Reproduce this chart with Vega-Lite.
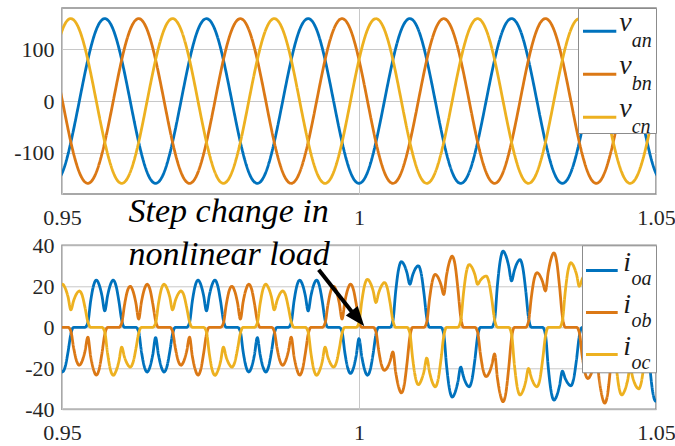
{
  "$schema": "https://vega.github.io/schema/vega-lite/v6.json",
  "background": "white",
  "padding": {"left": 12, "top": 6, "right": 0, "bottom": 0},
  "bounds": "flush",
  "spacing": 51.3,
  "config": {
    "font": "Liberation Serif, Times New Roman, serif",
    "view": {"stroke": "#8c8c8c", "strokeWidth": 1.5},
    "axis": {"labelFont": "Liberation Serif, Times New Roman, serif", "labelFontSize": 22, "labelColor": "#262626", "ticks": false, "tickSize": 0, "domain": false, "gridColor": "#c8c8c8", "gridWidth": 1, "labelFlush": false, "labelOverlap": false},
    "axisX": {"labelPadding": 13},
    "axisY": {"labelPadding": 8},
    "legend": {"labelFont": "Liberation Serif, Times New Roman, serif", "titleFont": "Liberation Serif, Times New Roman, serif"}
  },
  "resolve": {"scale": {"color": "independent", "strokeDash": "independent"}, "legend": {"color": "independent", "strokeDash": "independent"}},
  "vconcat": [
    {
      "width": 594,
      "height": 186,
      "data": {"values": [
        {"t":0.94864,"van":-158.5,"vbn":79.3,"vcn":79.3},
        {"t":0.95007,"van":-137.3,"vbn":0,"vcn":137.3},
        {"t":0.95149,"van":-79.3,"vbn":-79.3,"vcn":158.5},
        {"t":0.95292,"van":0,"vbn":-137.3,"vcn":137.3},
        {"t":0.95435,"van":79.3,"vbn":-158.5,"vcn":79.3},
        {"t":0.95577,"van":137.3,"vbn":-137.3,"vcn":0},
        {"t":0.9572,"van":158.5,"vbn":-79.3,"vcn":-79.3},
        {"t":0.95863,"van":137.3,"vbn":0,"vcn":-137.3},
        {"t":0.96005,"van":79.3,"vbn":79.3,"vcn":-158.5},
        {"t":0.96148,"van":0,"vbn":137.3,"vcn":-137.3},
        {"t":0.96291,"van":-79.3,"vbn":158.5,"vcn":-79.3},
        {"t":0.96433,"van":-137.3,"vbn":137.3,"vcn":0},
        {"t":0.96576,"van":-158.5,"vbn":79.3,"vcn":79.3},
        {"t":0.96719,"van":-137.3,"vbn":0,"vcn":137.3},
        {"t":0.96861,"van":-79.3,"vbn":-79.3,"vcn":158.5},
        {"t":0.97004,"van":0,"vbn":-137.3,"vcn":137.3},
        {"t":0.97147,"van":79.3,"vbn":-158.5,"vcn":79.3},
        {"t":0.97289,"van":137.3,"vbn":-137.3,"vcn":0},
        {"t":0.97432,"van":158.5,"vbn":-79.3,"vcn":-79.3},
        {"t":0.97575,"van":137.3,"vbn":0,"vcn":-137.3},
        {"t":0.97717,"van":79.3,"vbn":79.3,"vcn":-158.5},
        {"t":0.9786,"van":0,"vbn":137.3,"vcn":-137.3},
        {"t":0.98003,"van":-79.3,"vbn":158.5,"vcn":-79.3},
        {"t":0.98145,"van":-137.3,"vbn":137.3,"vcn":0},
        {"t":0.98288,"van":-158.5,"vbn":79.3,"vcn":79.3},
        {"t":0.98431,"van":-137.3,"vbn":0,"vcn":137.3},
        {"t":0.98573,"van":-79.3,"vbn":-79.3,"vcn":158.5},
        {"t":0.98716,"van":0,"vbn":-137.3,"vcn":137.3},
        {"t":0.98859,"van":79.3,"vbn":-158.5,"vcn":79.3},
        {"t":0.99001,"van":137.3,"vbn":-137.3,"vcn":0},
        {"t":0.99144,"van":158.5,"vbn":-79.3,"vcn":-79.3},
        {"t":0.99287,"van":137.3,"vbn":0,"vcn":-137.3},
        {"t":0.99429,"van":79.3,"vbn":79.3,"vcn":-158.5},
        {"t":0.99572,"van":0,"vbn":137.3,"vcn":-137.3},
        {"t":0.99715,"van":-79.3,"vbn":158.5,"vcn":-79.3},
        {"t":0.99857,"van":-137.3,"vbn":137.3,"vcn":0},
        {"t":1,"van":-158.5,"vbn":79.3,"vcn":79.3},
        {"t":1.00143,"van":-137.3,"vbn":0,"vcn":137.3},
        {"t":1.00285,"van":-79.3,"vbn":-79.3,"vcn":158.5},
        {"t":1.00428,"van":0,"vbn":-137.3,"vcn":137.3},
        {"t":1.00571,"van":79.3,"vbn":-158.5,"vcn":79.3},
        {"t":1.00713,"van":137.3,"vbn":-137.3,"vcn":0},
        {"t":1.00856,"van":158.5,"vbn":-79.3,"vcn":-79.3},
        {"t":1.00999,"van":137.3,"vbn":0,"vcn":-137.3},
        {"t":1.01141,"van":79.3,"vbn":79.3,"vcn":-158.5},
        {"t":1.01284,"van":0,"vbn":137.3,"vcn":-137.3},
        {"t":1.01427,"van":-79.3,"vbn":158.5,"vcn":-79.3},
        {"t":1.01569,"van":-137.3,"vbn":137.3,"vcn":0},
        {"t":1.01712,"van":-158.5,"vbn":79.3,"vcn":79.3},
        {"t":1.01855,"van":-137.3,"vbn":0,"vcn":137.3},
        {"t":1.01997,"van":-79.3,"vbn":-79.3,"vcn":158.5},
        {"t":1.0214,"van":0,"vbn":-137.3,"vcn":137.3},
        {"t":1.02283,"van":79.3,"vbn":-158.5,"vcn":79.3},
        {"t":1.02425,"van":137.3,"vbn":-137.3,"vcn":0},
        {"t":1.02568,"van":158.5,"vbn":-79.3,"vcn":-79.3},
        {"t":1.02711,"van":137.3,"vbn":0,"vcn":-137.3},
        {"t":1.02853,"van":79.3,"vbn":79.3,"vcn":-158.5},
        {"t":1.02996,"van":0,"vbn":137.3,"vcn":-137.3},
        {"t":1.03139,"van":-79.3,"vbn":158.5,"vcn":-79.3},
        {"t":1.03281,"van":-137.3,"vbn":137.3,"vcn":0},
        {"t":1.03424,"van":-158.5,"vbn":79.3,"vcn":79.3},
        {"t":1.03567,"van":-137.3,"vbn":0,"vcn":137.3},
        {"t":1.03709,"van":-79.3,"vbn":-79.3,"vcn":158.5},
        {"t":1.03852,"van":0,"vbn":-137.3,"vcn":137.3},
        {"t":1.03995,"van":79.3,"vbn":-158.5,"vcn":79.3},
        {"t":1.04137,"van":137.3,"vbn":-137.3,"vcn":0},
        {"t":1.0428,"van":158.5,"vbn":-79.3,"vcn":-79.3},
        {"t":1.04423,"van":137.3,"vbn":0,"vcn":-137.3},
        {"t":1.04565,"van":79.3,"vbn":79.3,"vcn":-158.5},
        {"t":1.04708,"van":0,"vbn":137.3,"vcn":-137.3},
        {"t":1.04851,"van":-79.3,"vbn":158.5,"vcn":-79.3},
        {"t":1.04993,"van":-137.3,"vbn":137.3,"vcn":0},
        {"t":1.05136,"van":-158.5,"vbn":79.3,"vcn":79.3}
      ]},
      "transform": [{"fold": ["van", "vbn", "vcn"], "as": ["series", "value"]}],
      "mark": {"type": "line", "interpolate": "natural", "strokeWidth": 2.8, "clip": true},
      "encoding": {
        "x": {"field": "t", "type": "quantitative", "title": null, "scale": {"domain": [0.95, 1.05], "nice": false, "zero": false}, "axis": {"title": null, "values": [0.95, 1, 1.05], "format": "~g"}},
        "y": {"field": "value", "type": "quantitative", "title": null, "scale": {"domain": [-179, 179], "nice": false}, "axis": {"title": null, "values": [-100, 0, 100], "labelExpr": "'' + datum.value"}},
        "color": {"field": "series", "type": "nominal", "scale": {"domain": ["van", "vbn", "vcn"], "range": ["#0072BD", "#DB7815", "#EDB120"]},
          "legend": {"title": ".", "titleOrient": "right", "titleFontSize": 6, "titleColor": "white", "titlePadding": 13.05,
            "orient": "top-right", "offset": 0, "padding": 9.3, "fillColor": "white", "strokeColor": "#8c8c8c", "cornerRadius": 0,
            "symbolType": "M-1.83,0L1.5,0", "symbolSize": 400, "symbolStrokeWidth": 3, "rowPadding": 15, "labelOffset": 4,
            "labelFontStyle": "italic", "labelFontSize": 28, "labelColor": "#1a1a1a", "labelBaseline": "alphabetic",
            "labelExpr": "'v'"}},
        "strokeDash": {"field": "series", "type": "nominal", "scale": {"domain": ["van", "vbn", "vcn"], "range": [[1, 0], [1, 0], [1, 0]]},
          "legend": {"title": null, "orient": "none", "legendX": 549.7, "legendY": 29, "padding": 0,
            "symbolSize": 100, "symbolOpacity": 0, "symbolStrokeWidth": 0, "rowPadding": 23, "labelOffset": 0,
            "labelFontStyle": "italic", "labelFontSize": 20, "labelColor": "#1a1a1a", "labelBaseline": "alphabetic",
            "labelExpr": "substring(datum.label, 1)"}}
      }
    },
    {
      "width": 594,
      "height": 164,
      "layer": [
        {
          "data": {"values": [
            {"t":0.94959,"ioa":-19.3,"iob":0,"ioc":18.5},
            {"t":0.95007,"ioa":-21.8,"iob":0,"ioc":21},
            {"t":0.95054,"ioa":-19.2,"iob":0,"ioc":19.1},
            {"t":0.95102,"ioa":-12,"iob":0,"ioc":14.8},
            {"t":0.95149,"ioa":-3.3,"iob":-1.9,"ioc":8.5},
            {"t":0.95197,"ioa":0,"iob":-10.2,"ioc":13.1},
            {"t":0.95244,"ioa":0,"iob":-16.3,"ioc":16.3},
            {"t":0.95292,"ioa":0,"iob":-18.5,"ioc":17.7},
            {"t":0.9534,"ioa":0,"iob":-16.4,"ioc":15.6},
            {"t":0.95387,"ioa":0,"iob":-11.7,"ioc":9.7},
            {"t":0.95435,"ioa":2.3,"iob":-4.8,"ioc":2.7},
            {"t":0.95482,"ioa":12.7,"iob":-14.1,"ioc":0},
            {"t":0.9553,"ioa":20.2,"iob":-20.5,"ioc":0},
            {"t":0.95577,"ioa":23,"iob":-23.3,"ioc":0},
            {"t":0.95625,"ioa":20.8,"iob":-20.5,"ioc":0},
            {"t":0.95672,"ioa":15.5,"iob":-12.8,"ioc":0},
            {"t":0.9572,"ioa":8,"iob":-3.5,"ioc":-2.3},
            {"t":0.95768,"ioa":15.5,"iob":0,"ioc":-12.9},
            {"t":0.95815,"ioa":20.8,"iob":0,"ioc":-20.6},
            {"t":0.95863,"ioa":23,"iob":0,"ioc":-23.4},
            {"t":0.9591,"ioa":20.2,"iob":0,"ioc":-21.3},
            {"t":0.95958,"ioa":12.7,"iob":0,"ioc":-16.6},
            {"t":0.96005,"ioa":3.5,"iob":2,"ioc":-9.7},
            {"t":0.96053,"ioa":0,"iob":11,"ioc":-14.6},
            {"t":0.961,"ioa":0,"iob":17.6,"ioc":-17.9},
            {"t":0.96148,"ioa":0,"iob":20,"ioc":-19.4},
            {"t":0.96196,"ioa":0,"iob":17.6,"ioc":-17.1},
            {"t":0.96243,"ioa":0,"iob":12,"ioc":-10.7},
            {"t":0.96291,"ioa":-2.2,"iob":4,"ioc":-2.9},
            {"t":0.96338,"ioa":-12,"iob":12.5,"ioc":0},
            {"t":0.96386,"ioa":-19.2,"iob":18.5,"ioc":0},
            {"t":0.96433,"ioa":-21.8,"iob":21,"ioc":0},
            {"t":0.96481,"ioa":-19.3,"iob":18.5,"ioc":0},
            {"t":0.96528,"ioa":-13.4,"iob":11.6,"ioc":0},
            {"t":0.96576,"ioa":-5,"iob":3.2,"ioc":2.1},
            {"t":0.96624,"ioa":-13.4,"iob":0,"ioc":11.6},
            {"t":0.96671,"ioa":-19.3,"iob":0,"ioc":18.5},
            {"t":0.96719,"ioa":-21.8,"iob":0,"ioc":21},
            {"t":0.96766,"ioa":-19.2,"iob":0,"ioc":19.1},
            {"t":0.96814,"ioa":-12,"iob":0,"ioc":14.8},
            {"t":0.96861,"ioa":-3.3,"iob":-1.9,"ioc":8.5},
            {"t":0.96909,"ioa":0,"iob":-10.2,"ioc":13.1},
            {"t":0.96956,"ioa":0,"iob":-16.3,"ioc":16.3},
            {"t":0.97004,"ioa":0,"iob":-18.5,"ioc":17.7},
            {"t":0.97052,"ioa":0,"iob":-16.4,"ioc":15.6},
            {"t":0.97099,"ioa":0,"iob":-11.7,"ioc":9.7},
            {"t":0.97147,"ioa":2.3,"iob":-4.8,"ioc":2.7},
            {"t":0.97194,"ioa":12.7,"iob":-14.1,"ioc":0},
            {"t":0.97242,"ioa":20.2,"iob":-20.5,"ioc":0},
            {"t":0.97289,"ioa":23,"iob":-23.3,"ioc":0},
            {"t":0.97337,"ioa":20.8,"iob":-20.5,"ioc":0},
            {"t":0.97384,"ioa":15.5,"iob":-12.8,"ioc":0},
            {"t":0.97432,"ioa":8,"iob":-3.5,"ioc":-2.3},
            {"t":0.9748,"ioa":15.5,"iob":0,"ioc":-12.9},
            {"t":0.97527,"ioa":20.8,"iob":0,"ioc":-20.6},
            {"t":0.97575,"ioa":23,"iob":0,"ioc":-23.4},
            {"t":0.97622,"ioa":20.2,"iob":0,"ioc":-21.3},
            {"t":0.9767,"ioa":12.7,"iob":0,"ioc":-16.6},
            {"t":0.97717,"ioa":3.5,"iob":2,"ioc":-9.7},
            {"t":0.97765,"ioa":0,"iob":11,"ioc":-14.6},
            {"t":0.97812,"ioa":0,"iob":17.6,"ioc":-17.9},
            {"t":0.9786,"ioa":0,"iob":20,"ioc":-19.4},
            {"t":0.97908,"ioa":0,"iob":17.6,"ioc":-17.1},
            {"t":0.97955,"ioa":0,"iob":12,"ioc":-10.7},
            {"t":0.98003,"ioa":-2.2,"iob":4,"ioc":-2.9},
            {"t":0.9805,"ioa":-12,"iob":12.5,"ioc":0},
            {"t":0.98098,"ioa":-19.2,"iob":18.5,"ioc":0},
            {"t":0.98145,"ioa":-21.8,"iob":21,"ioc":0},
            {"t":0.98193,"ioa":-19.3,"iob":18.5,"ioc":0},
            {"t":0.9824,"ioa":-13.4,"iob":11.6,"ioc":0},
            {"t":0.98288,"ioa":-5,"iob":3.2,"ioc":2.1},
            {"t":0.98336,"ioa":-13.4,"iob":0,"ioc":11.6},
            {"t":0.98383,"ioa":-19.3,"iob":0,"ioc":18.5},
            {"t":0.98431,"ioa":-21.8,"iob":0,"ioc":21},
            {"t":0.98478,"ioa":-19.2,"iob":0,"ioc":19.1},
            {"t":0.98526,"ioa":-12,"iob":0,"ioc":14.8},
            {"t":0.98573,"ioa":-3.3,"iob":-1.9,"ioc":8.5},
            {"t":0.98621,"ioa":0,"iob":-10.2,"ioc":13.1},
            {"t":0.98668,"ioa":0,"iob":-16.3,"ioc":16.3},
            {"t":0.98716,"ioa":0,"iob":-18.5,"ioc":17.7},
            {"t":0.98764,"ioa":0,"iob":-16.4,"ioc":15.6},
            {"t":0.98811,"ioa":0,"iob":-11.7,"ioc":9.7},
            {"t":0.98859,"ioa":2.3,"iob":-4.8,"ioc":2.7},
            {"t":0.98906,"ioa":12.7,"iob":-14.1,"ioc":0},
            {"t":0.98954,"ioa":20.2,"iob":-20.5,"ioc":0},
            {"t":0.99001,"ioa":23,"iob":-23.3,"ioc":0},
            {"t":0.99049,"ioa":20.8,"iob":-20.5,"ioc":0},
            {"t":0.99096,"ioa":15.5,"iob":-12.8,"ioc":0},
            {"t":0.99144,"ioa":8,"iob":-3.5,"ioc":-2.3},
            {"t":0.99192,"ioa":15.5,"iob":0,"ioc":-12.9},
            {"t":0.99239,"ioa":20.8,"iob":0,"ioc":-20.6},
            {"t":0.99287,"ioa":23,"iob":0,"ioc":-23.4},
            {"t":0.99334,"ioa":20.2,"iob":0,"ioc":-21.3},
            {"t":0.99382,"ioa":12.7,"iob":0,"ioc":-16.6},
            {"t":0.99429,"ioa":3.5,"iob":2,"ioc":-9.7},
            {"t":0.99477,"ioa":0,"iob":11,"ioc":-14.6},
            {"t":0.99524,"ioa":0,"iob":17.6,"ioc":-17.9},
            {"t":0.99572,"ioa":0,"iob":20,"ioc":-19.4},
            {"t":0.9962,"ioa":0,"iob":17.6,"ioc":-17.1},
            {"t":0.99667,"ioa":0,"iob":12,"ioc":-10.7},
            {"t":0.99715,"ioa":-2.3,"iob":4,"ioc":-2.9},
            {"t":0.99762,"ioa":-12.4,"iob":12.5,"ioc":0},
            {"t":0.9981,"ioa":-19.8,"iob":18.5,"ioc":0},
            {"t":0.99857,"ioa":-22.5,"iob":21,"ioc":0},
            {"t":0.99905,"ioa":-20,"iob":18.5,"ioc":0},
            {"t":0.99952,"ioa":-14,"iob":11.6,"ioc":0},
            {"t":1,"ioa":-5.5,"iob":3.2,"ioc":2.3},
            {"t":1.00048,"ioa":-14.5,"iob":0,"ioc":12.9},
            {"t":1.00095,"ioa":-20.7,"iob":0,"ioc":20.6},
            {"t":1.00143,"ioa":-23.4,"iob":0,"ioc":23.4},
            {"t":1.0019,"ioa":-20.6,"iob":0,"ioc":21.7},
            {"t":1.00238,"ioa":-12.9,"iob":0,"ioc":17.8},
            {"t":1.00285,"ioa":-3.5,"iob":-2.1,"ioc":12.1},
            {"t":1.00333,"ioa":0,"iob":-11.6,"ioc":17},
            {"t":1.0038,"ioa":0,"iob":-18.5,"ioc":20.3},
            {"t":1.00428,"ioa":0,"iob":-21,"ioc":21.8},
            {"t":1.00476,"ioa":0,"iob":-19.7,"ioc":19.2},
            {"t":1.00523,"ioa":0,"iob":-16.5,"ioc":12},
            {"t":1.00571,"ioa":3.2,"iob":-12,"ioc":3.3},
            {"t":1.00618,"ioa":17.6,"iob":-22,"ioc":0},
            {"t":1.00666,"ioa":28.2,"iob":-29,"ioc":0},
            {"t":1.00713,"ioa":32,"iob":-32,"ioc":0},
            {"t":1.00761,"ioa":30.4,"iob":-28.2,"ioc":0},
            {"t":1.00808,"ioa":26.5,"iob":-17.6,"ioc":0},
            {"t":1.00856,"ioa":21,"iob":-4.8,"ioc":-2.8},
            {"t":1.00904,"ioa":25.5,"iob":0,"ioc":-15.4},
            {"t":1.00951,"ioa":28.7,"iob":0,"ioc":-24.6},
            {"t":1.00999,"ioa":30,"iob":0,"ioc":-28},
            {"t":1.01046,"ioa":26.4,"iob":0,"ioc":-26},
            {"t":1.01094,"ioa":16.5,"iob":0,"ioc":-21.5},
            {"t":1.01141,"ioa":4.5,"iob":2.6,"ioc":-15},
            {"t":1.01189,"ioa":0,"iob":14.2,"ioc":-22},
            {"t":1.01236,"ioa":0,"iob":22.7,"ioc":-26.9},
            {"t":1.01284,"ioa":0,"iob":25.8,"ioc":-29},
            {"t":1.01332,"ioa":0,"iob":24.3,"ioc":-25.5},
            {"t":1.01379,"ioa":0,"iob":20.9,"ioc":-16},
            {"t":1.01427,"ioa":-3.4,"iob":16,"ioc":-4.4},
            {"t":1.01474,"ioa":-18.7,"iob":25.4,"ioc":0},
            {"t":1.01522,"ioa":-29.9,"iob":31.9,"ioc":0},
            {"t":1.01569,"ioa":-34,"iob":34.7,"ioc":0},
            {"t":1.01617,"ioa":-31.8,"iob":30.5,"ioc":0},
            {"t":1.01664,"ioa":-26.7,"iob":19.1,"ioc":0},
            {"t":1.01712,"ioa":-19.4,"iob":5.2,"ioc":3.1},
            {"t":1.0176,"ioa":-24.2,"iob":0,"ioc":16.8},
            {"t":1.01807,"ioa":-27.6,"iob":0,"ioc":26.9},
            {"t":1.01855,"ioa":-29,"iob":0,"ioc":30.6},
            {"t":1.01902,"ioa":-25.5,"iob":0,"ioc":29.2},
            {"t":1.0195,"ioa":-16,"iob":0,"ioc":25.8},
            {"t":1.01997,"ioa":-4.4,"iob":-2.4,"ioc":21},
            {"t":1.02045,"ioa":0,"iob":-13.2,"ioc":23},
            {"t":1.02092,"ioa":0,"iob":-21.1,"ioc":24.4},
            {"t":1.0214,"ioa":0,"iob":-24,"ioc":25},
            {"t":1.02188,"ioa":0,"iob":-22.4,"ioc":22},
            {"t":1.02235,"ioa":0,"iob":-18.5,"ioc":13.8},
            {"t":1.02283,"ioa":3.7,"iob":-13,"ioc":3.8},
            {"t":1.0233,"ioa":20.4,"iob":-24.7,"ioc":0},
            {"t":1.02378,"ioa":32.6,"iob":-32.8,"ioc":0},
            {"t":1.02425,"ioa":37.1,"iob":-36.3,"ioc":0},
            {"t":1.02473,"ioa":34.9,"iob":-31.9,"ioc":0},
            {"t":1.0252,"ioa":29.9,"iob":-20,"ioc":0},
            {"t":1.02568,"ioa":22.6,"iob":-5.4,"ioc":-3.3},
            {"t":1.02616,"ioa":27.8,"iob":0,"ioc":-18.2},
            {"t":1.02663,"ioa":31.4,"iob":0,"ioc":-29},
            {"t":1.02711,"ioa":33,"iob":0,"ioc":-33},
            {"t":1.02758,"ioa":29,"iob":0,"ioc":-31.1},
            {"t":1.02806,"ioa":18.2,"iob":0,"ioc":-26.5},
            {"t":1.02853,"ioa":5,"iob":2.7,"ioc":-20},
            {"t":1.02901,"ioa":0,"iob":14.6,"ioc":-24.5},
            {"t":1.02948,"ioa":0,"iob":23.4,"ioc":-27.7},
            {"t":1.02996,"ioa":0,"iob":26.6,"ioc":-29},
            {"t":1.03044,"ioa":0,"iob":25.3,"ioc":-25.5},
            {"t":1.03091,"ioa":0,"iob":22.2,"ioc":-16},
            {"t":1.03139,"ioa":-3.6,"iob":17.7,"ioc":-4.4},
            {"t":1.03186,"ioa":-19.5,"iob":27,"ioc":0},
            {"t":1.03234,"ioa":-31.2,"iob":33.5,"ioc":0},
            {"t":1.03281,"ioa":-35.5,"iob":36.3,"ioc":0},
            {"t":1.03329,"ioa":-33.4,"iob":31.9,"ioc":0},
            {"t":1.03376,"ioa":-28.5,"iob":20,"ioc":0},
            {"t":1.03424,"ioa":-21.4,"iob":5.4,"ioc":3.2},
            {"t":1.03472,"ioa":-25,"iob":0,"ioc":17.3},
            {"t":1.03519,"ioa":-27.4,"iob":0,"ioc":27.7},
            {"t":1.03567,"ioa":-28.5,"iob":0,"ioc":31.5},
            {"t":1.03614,"ioa":-25.1,"iob":0,"ioc":29.8},
            {"t":1.03662,"ioa":-15.7,"iob":0,"ioc":25.8},
            {"t":1.03709,"ioa":-4.3,"iob":-2.5,"ioc":20},
            {"t":1.03757,"ioa":0,"iob":-13.8,"ioc":23.5},
            {"t":1.03804,"ioa":0,"iob":-22,"ioc":26},
            {"t":1.03852,"ioa":0,"iob":-25,"ioc":27},
            {"t":1.039,"ioa":0,"iob":-23.2,"ioc":23.8},
            {"t":1.03947,"ioa":0,"iob":-19,"ioc":14.9},
            {"t":1.03995,"ioa":3.7,"iob":-13,"ioc":4.1},
            {"t":1.04042,"ioa":20.4,"iob":-25,"ioc":0},
            {"t":1.0409,"ioa":32.6,"iob":-33.4,"ioc":0},
            {"t":1.04137,"ioa":37,"iob":-37,"ioc":0},
            {"t":1.04185,"ioa":34.9,"iob":-32.6,"ioc":0},
            {"t":1.04232,"ioa":30,"iob":-20.4,"ioc":0},
            {"t":1.0428,"ioa":23,"iob":-5.6,"ioc":-3.3},
            {"t":1.04328,"ioa":28,"iob":0,"ioc":-18.2},
            {"t":1.04375,"ioa":31.5,"iob":0,"ioc":-29},
            {"t":1.04423,"ioa":33,"iob":0,"ioc":-33},
            {"t":1.0447,"ioa":29,"iob":0,"ioc":-31.1},
            {"t":1.04518,"ioa":18.2,"iob":0,"ioc":-26.5},
            {"t":1.04565,"ioa":5,"iob":2.7,"ioc":-20},
            {"t":1.04613,"ioa":0,"iob":14.9,"ioc":-25},
            {"t":1.0466,"ioa":0,"iob":23.8,"ioc":-28.5},
            {"t":1.04708,"ioa":0,"iob":27,"ioc":-30},
            {"t":1.04756,"ioa":0,"iob":25.7,"ioc":-26.4},
            {"t":1.04803,"ioa":0,"iob":22.5,"ioc":-16.5},
            {"t":1.04851,"ioa":-3.6,"iob":18,"ioc":-4.5},
            {"t":1.04898,"ioa":-19.8,"iob":27,"ioc":0},
            {"t":1.04946,"ioa":-31.7,"iob":33.3,"ioc":0},
            {"t":1.04993,"ioa":-36,"iob":36,"ioc":0},
            {"t":1.05041,"ioa":-33.8,"iob":31.7,"ioc":0}
          ]},
          "transform": [{"fold": ["ioa", "iob", "ioc"], "as": ["series", "value"]}],
          "mark": {"type": "line", "interpolate": "monotone", "strokeWidth": 2.8, "clip": true},
          "encoding": {
            "x": {"field": "t", "type": "quantitative", "title": null, "scale": {"domain": [0.95, 1.05], "nice": false, "zero": false}, "axis": {"title": null, "values": [0.95, 1, 1.05], "format": "~g"}},
            "y": {"field": "value", "type": "quantitative", "title": null, "scale": {"domain": [-40, 40], "nice": false}, "axis": {"title": null, "values": [-40, -20, 0, 20, 40], "labelExpr": "'' + datum.value"}},
            "color": {"field": "series", "type": "nominal", "scale": {"domain": ["ioa", "iob", "ioc"], "range": ["#0072BD", "#DB7815", "#EDB120"]},
              "legend": {"title": ".", "titleOrient": "right", "titleFontSize": 6, "titleColor": "white", "titlePadding": 11.35,
                "orient": "top-right", "offset": 0, "padding": 11.3, "fillColor": "white", "strokeColor": "#8c8c8c", "cornerRadius": 0,
                "symbolType": "M-2.13,0L1.04,0", "symbolSize": 400, "symbolStrokeWidth": 3, "rowPadding": 14, "labelOffset": 2,
                "labelFontStyle": "italic", "labelFontSize": 28, "labelColor": "#1a1a1a", "labelBaseline": "alphabetic",
                "labelExpr": "'i'"}},
            "strokeDash": {"field": "series", "type": "nominal", "scale": {"domain": ["ioa", "iob", "ioc"], "range": [[1, 0], [1, 0], [1, 0]]},
              "legend": {"title": null, "orient": "none", "legendX": 549.5, "legendY": 29.3, "padding": 0,
                "symbolSize": 100, "symbolOpacity": 0, "symbolStrokeWidth": 0, "rowPadding": 22, "labelOffset": 0,
                "labelFontStyle": "italic", "labelFontSize": 20, "labelColor": "#1a1a1a", "labelBaseline": "alphabetic",
                "labelExpr": "substring(datum.label, 1)"}}
          }
        },
        {
          "data": {"values": [{}]},
          "mark": {"type": "text", "font": "Liberation Serif, Times New Roman, serif", "fontStyle": "italic", "fontSize": 34, "align": "left", "baseline": "alphabetic", "color": "black"},
          "encoding": {"x": {"datum": 0.9612}, "y": {"datum": 51.2}, "text": {"value": "Step change in"}}
        },
        {
          "data": {"values": [{}]},
          "mark": {"type": "text", "font": "Liberation Serif, Times New Roman, serif", "fontStyle": "italic", "fontSize": 34, "align": "left", "baseline": "alphabetic", "color": "black"},
          "encoding": {"x": {"datum": 0.9612}, "y": {"datum": 30.6}, "text": {"value": "nonlinear load"}}
        },
        {
          "data": {"values": [{}]},
          "mark": {"type": "rule", "strokeWidth": 4, "color": "black"},
          "encoding": {"x": {"datum": 0.99322}, "y": {"datum": 28.1}, "x2": {"datum": 0.999}, "y2": {"datum": 6.8}}
        },
        {
          "data": {"values": [{}]},
          "mark": {"type": "point", "shape": "M0,0L-0.923,-0.541L-0.331,-1.017Z", "filled": true, "color": "black", "size": 1600, "opacity": 1, "strokeWidth": 0},
          "encoding": {"x": {"datum": 1.00089}, "y": {"datum": 0.5}}
        }
      ]
    }
  ]
}
